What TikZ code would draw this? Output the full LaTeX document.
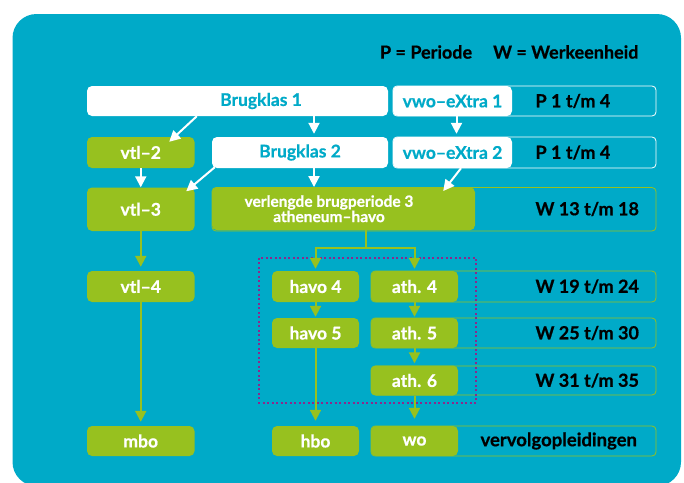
\documentclass[tikz,border=0pt]{standalone}
\usepackage{fontspec}
\setmainfont{Lato}[BoldFeatures={FakeBold=0.6}]
\usetikzlibrary{arrows.meta}

\definecolor{schoolblue}{RGB}{0,170,200}
\definecolor{schoolgreen}{RGB}{151,193,31}
\definecolor{dotpurple}{RGB}{140,40,140}

\begin{document}
\begin{tikzpicture}[x=1pt, y=-1pt,
  box/.style={rounded corners=5pt, inner sep=0pt, font=\fontsize{17.5}{18}\selectfont\bfseries},
  gbox/.style={box, fill=schoolgreen, text=white},
  wbox/.style={box, fill=white, text=schoolblue},
  wtext/.style={font=\fontsize{17.5}{18}\selectfont\bfseries, text=schoolblue},
  frame/.style={draw, rounded corners=4pt, line width=0.8pt},
  period/.style={font=\fontsize{18}{19}\selectfont\bfseries, anchor=west},
  warrow/.style={-{Triangle[width=11pt,length=11pt]}, white, line width=2pt},
  garrow/.style={-{Triangle[width=11pt,length=11pt]}, schoolgreen, line width=2pt},
]
  \useasboundingbox (0,0) rectangle (684,482);
  \clip (0,0) rectangle (684,482);

  % Background panel
  \fill[schoolblue, rounded corners=24pt] (12.5,14) rectangle (681,486);
  \node[font=\fontsize{18}{19}\selectfont\bfseries, anchor=east] (legend) at (642,52) {P = Periode\hspace{21pt}W = Werkeenheid};

  % Period frames
  \draw[frame, white] (393,86) rectangle (656,116);
  \draw[frame, white] (393,137) rectangle (656,168);
  \draw[frame, schoolgreen] (212,187.5) rectangle (656,231);
  \draw[frame, schoolgreen] (371,271) rectangle (656,302);
  \draw[frame, schoolgreen] (371,318) rectangle (656,348);
  \draw[frame, schoolgreen] (371,366) rectangle (656,395);
  \draw[frame, schoolgreen] (371,426) rectangle (656,456);
  \node[period] (p1) at (532,101) {P 1 t/m 4};
  \node[period] (p2) at (532,152.5) {P 1 t/m 4};
  \node[period] (w1) at (532,209) {W 13 t/m 18};
  \node[period] (w2) at (532,286.5) {W 19 t/m 24};
  \node[period] (w3) at (532,333) {W 25 t/m 30};
  \node[period] (w4) at (532,380.5) {W 31 t/m 35};
  \node[period, font=\fontsize{18.5}{19}\selectfont\bfseries] (vv) at (477,441) {vervolgopleidingen};

  % Dotted frame round havo and atheneum
  \draw[dotpurple, line width=2pt, dash pattern=on 2pt off 2.5pt] (259,257.5) rectangle (476,402.5);

  % Bridge years
  \node[wbox, minimum width=301pt, minimum height=30pt,
        label={[wtext, xshift=23.5pt]center:Brugklas 1}] (b1) at (237.5,101) {};
  \node[wbox, minimum width=119pt, minimum height=30pt] (vx1) at (452.5,101) {vwo–eXtra 1};
  \node[gbox, minimum width=107.5pt, minimum height=31pt] (vtl2) at (140.75,152.5) {vtl–2};
  \node[wbox, minimum width=176pt, minimum height=31pt] (b2) at (300,152.5) {Brugklas 2};
  \node[wbox, minimum width=119pt, minimum height=31pt] (vx2) at (452.5,152.5) {vwo–eXtra 2};
  \node[gbox, minimum width=107.5pt, minimum height=43.5pt] (vtl3) at (140.75,209.25) {vtl–3};
  \node[gbox, minimum width=263pt, minimum height=43pt,
        label={[text=white, font=\fontsize{15.5}{14}\selectfont\bfseries, align=center, xshift=-14.5pt]center:verlengde brugperiode 3\\atheneum–havo}] (vb) at (343.5,208.75) {};

  % Upper years
  \node[gbox, minimum width=107.5pt, minimum height=31pt] (vtl4) at (140.75,286.5) {vtl–4};
  \node[gbox, minimum width=87pt, minimum height=31pt] (h4) at (315.5,286.5) {havo 4};
  \node[gbox, minimum width=87pt, minimum height=31pt] (a4) at (414.5,286.5) {ath. 4};
  \node[gbox, minimum width=87pt, minimum height=30pt] (h5) at (315.5,333) {havo 5};
  \node[gbox, minimum width=87pt, minimum height=30pt] (a5) at (414.5,333) {ath. 5};
  \node[gbox, minimum width=87pt, minimum height=30pt] (a6) at (414.5,380.5) {ath. 6};

  % Follow-up studies
  \node[gbox, minimum width=107.5pt, minimum height=30pt] (mbo) at (140.75,441) {mbo};
  \node[gbox, minimum width=87pt, minimum height=30pt] (hbo) at (315.5,441) {hbo};
  \node[gbox, minimum width=87pt, minimum height=30pt] (wo) at (414.5,441) {wo};

  % White arrows
  \draw[warrow] ([xshift=110pt]b1.south west) -- ([xshift=-25.5pt,yshift=-5pt]vtl2.north east);
  \draw[warrow] ([xshift=76.5pt]b1.south) -- ([xshift=14pt,yshift=3pt]b2.north);
  \draw[warrow] ([xshift=4pt]vx1.south) -- ([xshift=4pt,yshift=3pt]vx2.north);
  \draw[warrow] (vtl2.south) -- (vtl3.north);
  \draw[warrow] ([xshift=3pt,yshift=1pt]b2.south west) -- ([xshift=-8.5pt,yshift=-4pt]vtl3.north east);
  \draw[warrow] ([xshift=14pt]b2.south) -- ([xshift=-29.5pt]vb.north);
  \draw[warrow] ([xshift=8.5pt]vx2.south) -- ([xshift=-32pt,yshift=-4pt]vb.north east);

  % Green arrows
  \coordinate (split) at ([xshift=22pt,yshift=-17.5pt]vb.south);
  \draw[schoolgreen, line width=2pt] ([xshift=22pt]vb.south) -- (split);
  \draw[garrow] (split) -| ([yshift=2pt]h4.north);
  \draw[garrow] (split) -| ([yshift=2pt]a4.north);
  \draw[garrow] (vtl3.south) -- ([yshift=4pt]vtl4.north);
  \draw[garrow] (h4.south) -- ([yshift=1pt]h5.north);
  \draw[garrow] (a4.south) -- ([yshift=1pt]a5.north);
  \draw[garrow] (a5.south) -- ([yshift=2pt]a6.north);
  \draw[garrow] (vtl4.south) -- ([yshift=4pt]mbo.north);
  \draw[garrow] (h5.south) -- ([yshift=5pt]hbo.north);
  \draw[garrow] (a6.south) -- ([yshift=7pt]wo.north);
\end{tikzpicture}
\end{document}
